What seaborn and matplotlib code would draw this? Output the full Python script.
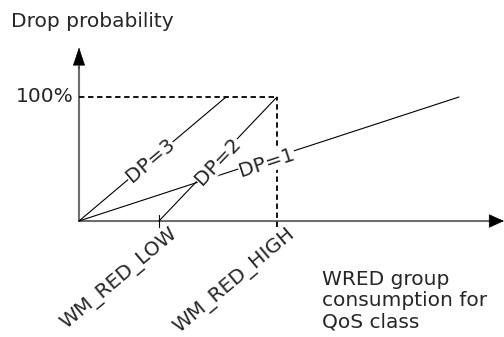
import numpy as np
import matplotlib
matplotlib.use("Agg")
import matplotlib.pyplot as plt
import seaborn as sns

# thresholds (x in consumption units, y in % drop probability)
wm_red_low = 80
wm_red_high = 198
dp3_x = [0, 147]
dp3_y = [0, 100]
dp2_x = [wm_red_low, wm_red_high]
dp2_y = [0, 100]
dp1_x = [0, 380]
dp1_y = [0, 100]
line_labels = ["DP=3", "DP=2", "DP=1"]
label_pos = [(71, 49), (139, 48), (188, 47)]
tick_labels = ["WM_RED_LOW", "WM_RED_HIGH"]

sns.set_style("white")
plt.rcParams['font.family'] = ['DejaVu Sans']
fs = 14.5

fig = plt.figure(figsize=(5.04, 3.37), dpi=100)
ax = fig.add_axes([0, 0, 1, 1])
# 1 x unit = 1 px, 1 y unit = 1.24 px, origin at pixel (79, 221)
ax.set_xlim(-79, 425)
ax.set_ylim(-(337 - 221) / 1.24, 221 / 1.24)
ax.axis("off")

# axes with arrow heads
axis_c = "#6e6e6e"
ax.plot([0, 413], [0, 0], color=axis_c, lw=1.5)
ax.plot([0, 0], [0, 124], color=axis_c, lw=1.5)
ax.annotate("", xy=(425, 0), xytext=(410, 0),
            arrowprops=dict(arrowstyle="-|>,head_length=1.0,head_width=0.45",
                            color="black", lw=0.5, shrinkA=0, shrinkB=0))
ax.annotate("", xy=(0, 140), xytext=(0, 123),
            arrowprops=dict(arrowstyle="-|>,head_length=1.2,head_width=0.4",
                            color="black", lw=0.5, shrinkA=0, shrinkB=0))

# dashed 100% box
sns.lineplot(x=[0, wm_red_high], y=[100, 100], color="black", lw=1.3,
             linestyle=(0, (3, 2)), ax=ax)
sns.lineplot(x=[wm_red_high, wm_red_high], y=[100, -5], color="black", lw=1.3,
             linestyle=(0, (3, 2)), ax=ax, orient="y")

# DP curves
for xs, ys in [(dp3_x, dp3_y), (dp2_x, dp2_y), (dp1_x, dp1_y)]:
    sns.lineplot(x=xs, y=ys, color="black", lw=0.8, ax=ax)

# tick at WM_RED_LOW
ax.plot([wm_red_low, wm_red_low], [5, -5], color="black", lw=0.8)

fig.canvas.draw()
def pix_angle(xs, ys):
    p = ax.transData.transform(np.column_stack([xs, ys]))
    return np.degrees(np.arctan2(p[1, 1] - p[0, 1], p[1, 0] - p[0, 0]))

for lab, (xs, ys), pos in zip(line_labels, [(dp3_x, dp3_y), (dp2_x, dp2_y), (dp1_x, dp1_y)], label_pos):
    ax.text(pos[0], pos[1], lab, rotation=pix_angle(xs, ys), rotation_mode="anchor",
            ha="center", va="center", fontsize=fs,
            bbox=dict(facecolor="white", edgecolor="none", pad=0.3))

for lab, xv in zip(tick_labels, [wm_red_low, wm_red_high]):
    ax.text(xv + 10, -3, lab, rotation=40, rotation_mode="anchor",
            ha="right", va="top", fontsize=fs)

ax.text(-5, 100, "100%", ha="right", va="center", fontsize=fs)
ax.text(-68, (221 - 27) / 1.24, "Drop probability", ha="left", va="baseline", fontsize=fs)
ax.text(243, -(270 - 221) / 1.24, "WRED group\nconsumption for\nQoS class",
        ha="left", va="top", fontsize=fs, linespacing=1.15)

fig.savefig("out.png", dpi=100)
